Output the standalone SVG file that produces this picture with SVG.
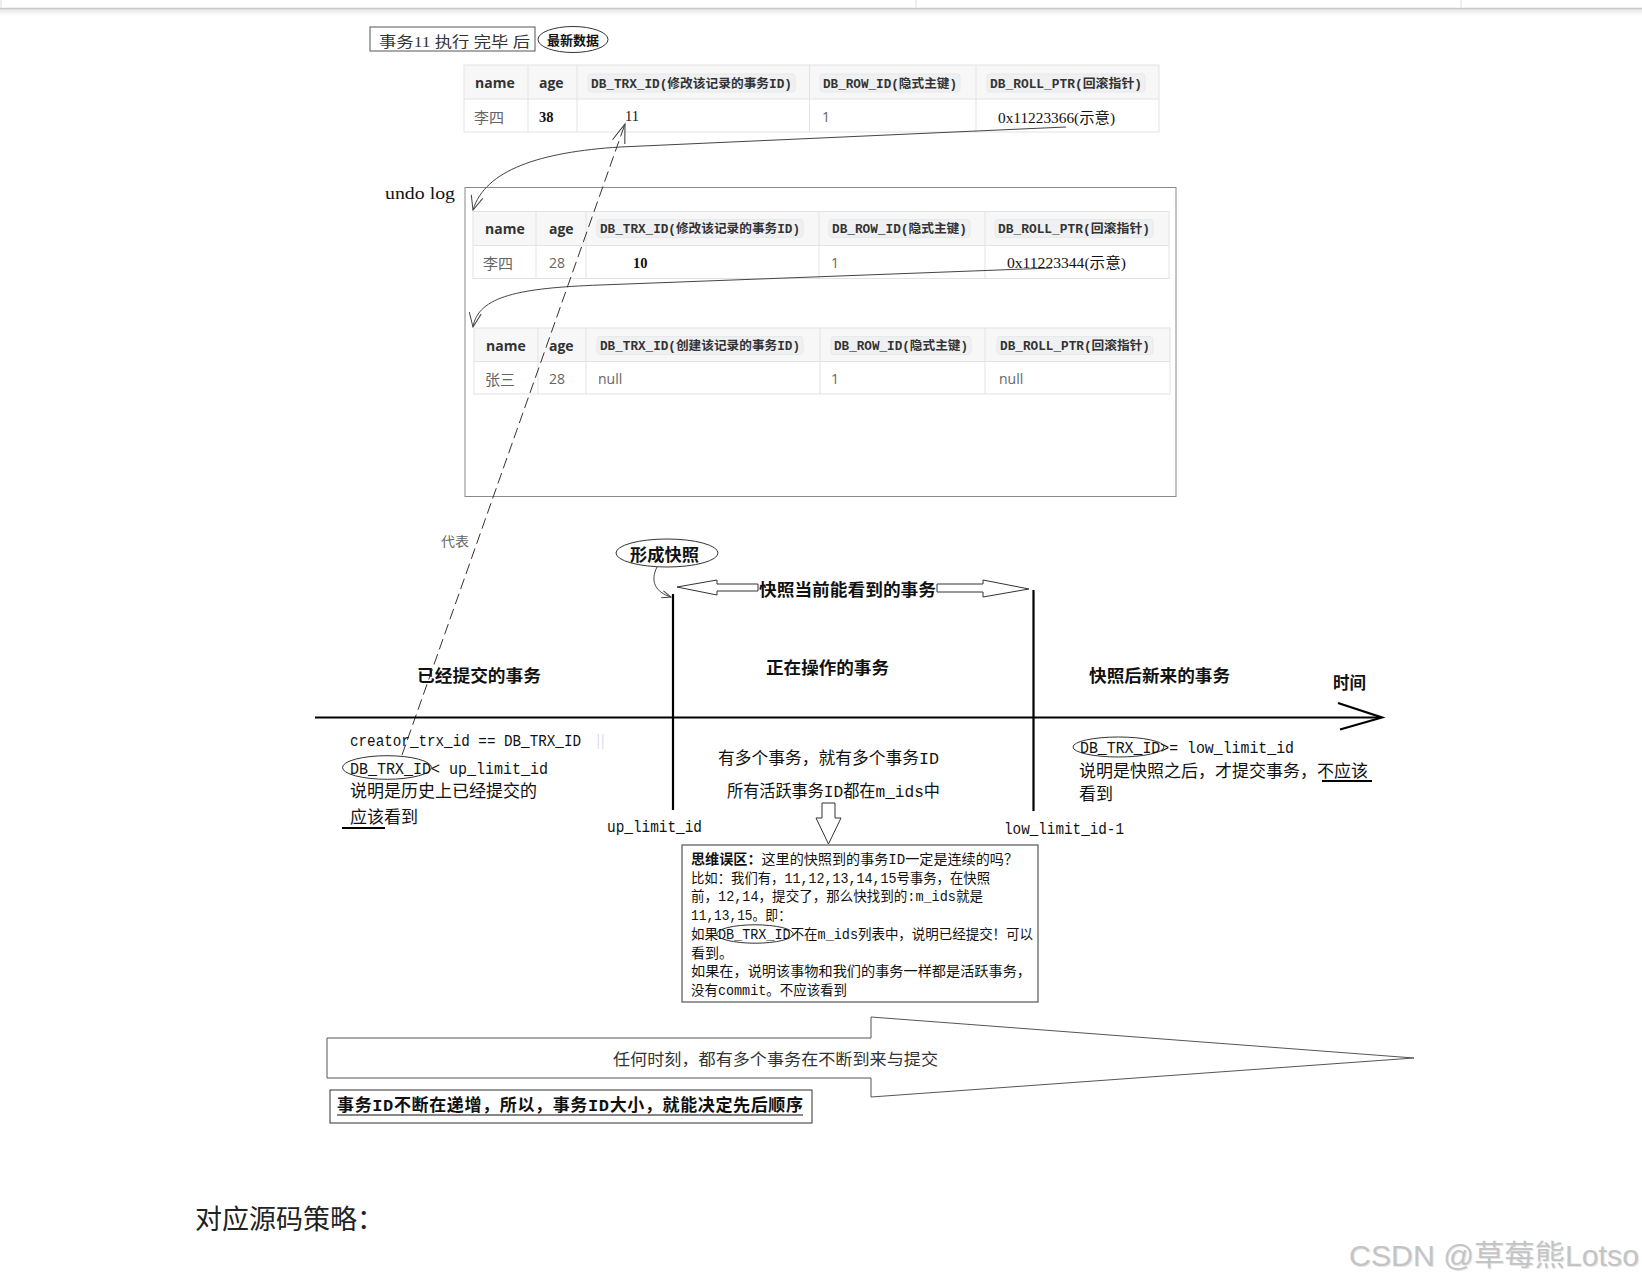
<svg xmlns="http://www.w3.org/2000/svg" width="1642" height="1283" viewBox="0 0 1642 1283">
<defs>
<style>
.cn{font-family:"Liberation Mono","Noto Sans CJK SC",sans-serif;fill:#111}
.d{font-size:16.5px}
.b{font-weight:bold}
.mono{font-family:"Liberation Mono","Noto Sans CJK SC",monospace;font-size:16px;fill:#111}
.th{font-family:"Open Sans","Noto Sans CJK SC",sans-serif;font-size:14px;font-weight:bold;fill:#333}
.code{font-family:"Liberation Mono","Noto Sans CJK SC",monospace;font-size:12.5px;font-weight:bold;fill:#333}
.codebg{fill:#eff0f1;stroke:#e4e6e8;stroke-width:0.8}
.td{font-family:"Open Sans","Noto Sans CJK SC",sans-serif;font-size:14px;fill:#666}
.tdc{font-family:"Noto Sans CJK SC",sans-serif;font-size:15px;fill:#666}
.ser{font-family:"Liberation Serif","Noto Sans CJK SC",serif;font-size:14.5px;fill:#111}
.grid{stroke:#e3e3e3;stroke-width:1;fill:none}
.hdr{fill:#f7f7f7}
.ln{fill:none;stroke:#444;stroke-width:1}
.bx{font-size:14px}
.blk{stroke:#000;stroke-width:2.2;fill:none}
</style>
<linearGradient id="sh" x1="0" y1="0" x2="0" y2="1">
<stop offset="0" stop-color="#e6e6e6"/><stop offset="1" stop-color="#ffffff"/>
</linearGradient>
<marker id="dh" markerUnits="userSpaceOnUse" markerWidth="22" markerHeight="16" viewBox="0 0 22 16" refX="20" refY="8" orient="auto"><path d="M1,1.5 L20,8 L1,14.5" fill="none" stroke="#333" stroke-width="1"/></marker>
<marker id="ah" markerUnits="userSpaceOnUse" markerWidth="16" markerHeight="14" viewBox="0 0 16 14" refX="15" refY="7" orient="auto"><path d="M1,1 L15,7 L1,13" fill="none" stroke="#444" stroke-width="1"/></marker>
<marker id="as" markerUnits="userSpaceOnUse" markerWidth="11" markerHeight="9" viewBox="0 0 11 9" refX="10" refY="4.5" orient="auto"><path d="M1,1 L10,4.5 L1,8" fill="none" stroke="#444" stroke-width="1"/></marker>
</defs>
<rect x="0" y="0" width="1642" height="1283" fill="#fff"/>
<g id="topbar">
<rect x="0" y="9" width="1642" height="7" fill="url(#sh)"/>
<line x1="0" y1="8.5" x2="1642" y2="8.5" stroke="#c9c9c9" stroke-width="1.5"/>
<line x1="1" y1="0" x2="1" y2="8" stroke="#ddd"/>
<line x1="916" y1="0" x2="916" y2="8" stroke="#ddd"/>
<line x1="1461" y1="0" x2="1461" y2="8" stroke="#ddd"/>
</g>

<g id="title-box">
<rect x="370" y="27" width="165" height="24" fill="#fff" stroke="#555" stroke-width="1"/>
<text class="ser" x="379" y="47" font-size="15.5" textLength="151" lengthAdjust="spacingAndGlyphs" style="fill:#333">事务11 执行 完毕 后</text>
</g>
<g id="latest-ellipse">
<ellipse cx="573" cy="39.5" rx="35" ry="13" fill="#fff" stroke="#333"/>
<text class="cn b" x="573" y="44.5" font-size="13" text-anchor="middle">最新数据</text>
</g>

<g id="table1">
<rect x="464" y="65" width="695" height="34" class="hdr"/>
<rect x="464" y="65" width="695" height="67" class="grid"/>
<path class="grid" d="M464 99H1159M528 65V132M577 65V132M809.5 65V132M976 65V132"/>
<text class="th" x="475" y="88">name</text>
<text class="th" x="539" y="88">age</text>
<rect class="codebg" x="588" y="74" width="207" height="18" rx="3"/>
<text class="code" x="591" y="87.5" textLength="201" lengthAdjust="spacingAndGlyphs">DB_TRX_ID(修改该记录的事务ID)</text>
<rect class="codebg" x="820" y="74" width="140" height="18" rx="3"/>
<text class="code" x="823" y="87.5" textLength="134" lengthAdjust="spacingAndGlyphs">DB_ROW_ID(隐式主键)</text>
<rect class="codebg" x="987" y="74" width="158" height="18" rx="3"/>
<text class="code" x="990" y="87.5" textLength="152" lengthAdjust="spacingAndGlyphs">DB_ROLL_PTR(回滚指针)</text>
<text class="tdc" x="474" y="123">李四</text>
<text class="ser b" x="539" y="122">38</text>
<text class="ser" x="625" y="121">11</text>
<text class="td" x="822" y="122">1</text>
<text class="ser" x="998" y="123" textLength="117" lengthAdjust="spacingAndGlyphs">0x11223366(示意)</text>
</g>

<g id="undo-log">
<text x="385" y="199" font-family="Liberation Serif,serif" font-size="17" fill="#111" textLength="70" lengthAdjust="spacingAndGlyphs">undo log</text>
<rect x="465" y="187.5" width="711" height="309" fill="#fff" stroke="#8a8a8a" stroke-width="1"/>
</g>

<g id="table2">
<rect x="473" y="211.5" width="696" height="34" class="hdr"/>
<rect x="473" y="211.5" width="696" height="67" class="grid"/>
<path class="grid" d="M473 245.5H1169M536 211.5V278.5M586 211.5V278.5M819 211.5V278.5M985 211.5V278.5"/>
<text class="th" x="485" y="233.5">name</text>
<text class="th" x="549" y="233.5">age</text>
<rect class="codebg" x="597" y="219.5" width="206" height="18" rx="3"/>
<text class="code" x="600" y="233" textLength="200" lengthAdjust="spacingAndGlyphs">DB_TRX_ID(修改该记录的事务ID)</text>
<rect class="codebg" x="829" y="219.5" width="141" height="18" rx="3"/>
<text class="code" x="832" y="233" textLength="135" lengthAdjust="spacingAndGlyphs">DB_ROW_ID(隐式主键)</text>
<rect class="codebg" x="995" y="219.5" width="158" height="18" rx="3"/>
<text class="code" x="998" y="233" textLength="152" lengthAdjust="spacingAndGlyphs">DB_ROLL_PTR(回滚指针)</text>
<text class="tdc" x="483" y="268.5">李四</text>
<text class="td" x="549" y="267.5">28</text>
<text class="ser b" x="633" y="267.5">10</text>
<text class="td" x="831" y="267.5">1</text>
<text class="ser" x="1007" y="268" textLength="119" lengthAdjust="spacingAndGlyphs">0x11223344(示意)</text>
</g>

<g id="table3">
<rect x="474" y="328" width="696" height="33.5" class="hdr"/>
<rect x="474" y="328" width="696" height="66" class="grid"/>
<path class="grid" d="M474 361.5H1170M538 328V394M586 328V394M820 328V394M985 328V394"/>
<text class="th" x="486" y="350.5">name</text>
<text class="th" x="549" y="350.5">age</text>
<rect class="codebg" x="597" y="336.5" width="206" height="18" rx="3"/>
<text class="code" x="600" y="350" textLength="200" lengthAdjust="spacingAndGlyphs">DB_TRX_ID(创建该记录的事务ID)</text>
<rect class="codebg" x="831" y="336.5" width="140" height="18" rx="3"/>
<text class="code" x="834" y="350" textLength="134" lengthAdjust="spacingAndGlyphs">DB_ROW_ID(隐式主键)</text>
<rect class="codebg" x="997" y="336.5" width="156" height="18" rx="3"/>
<text class="code" x="1000" y="350" textLength="150" lengthAdjust="spacingAndGlyphs">DB_ROLL_PTR(回滚指针)</text>
<text class="tdc" x="485" y="385">张三</text>
<text class="td" x="549" y="384">28</text>
<text class="td" x="598" y="384">null</text>
<text class="td" x="831" y="384">1</text>
<text class="td" x="999" y="384">null</text>
</g>

<g id="connectors">
<path class="ln" d="M1066 127 L620 147 C540 152 485 170 473 210" marker-end="url(#ah)"/>
<path class="ln" d="M1052 268 L600 285 C520 288 478 296 473 327" marker-end="url(#ah)"/>
<path d="M402 755 L625 124" fill="none" stroke="#333" stroke-width="1" stroke-dasharray="11 5" marker-end="url(#dh)"/>
<path class="ln" d="M657 567 C650 581 655 592 671 597" marker-end="url(#as)"/>
</g>

<g id="label-daibiao">
<text class="cn" x="441" y="546" font-size="13" style="fill:#666" textLength="28" lengthAdjust="spacingAndGlyphs">代表</text>
</g>

<g id="snapshot-ellipse">
<ellipse cx="667" cy="553" rx="51" ry="14" fill="#fff" stroke="#333"/>
<text class="cn d b" x="630" y="561" textLength="69" lengthAdjust="spacingAndGlyphs">形成快照</text>
</g>

<g id="visible-range">
<path d="M677 587 L717 580 L717 584 L758 584 L758 591 L717 591 L717 595 Z" fill="#fff" stroke="#333"/>
<path d="M937 584 L983 584 L983 580 L1029 589 L983 597 L983 592 L937 592 Z" fill="#fff" stroke="#333"/>
<text class="cn d b" x="759" y="596" textLength="177" lengthAdjust="spacingAndGlyphs">快照当前能看到的事务</text>
</g>

<g id="timeline">
<line class="blk" x1="315" y1="717.5" x2="1381" y2="717.5" stroke-width="2.5"/>
<path class="blk" d="M1338 703 L1382 717.5 L1340 729.5" stroke-width="3"/>
<line class="blk" x1="673" y1="594" x2="673" y2="810"/>
<line class="blk" x1="1033.5" y1="590" x2="1033.5" y2="811"/>
<text class="cn d b" x="1333" y="689" textLength="33" lengthAdjust="spacingAndGlyphs">时间</text>
</g>

<g id="committed">
<text class="cn d b" x="417" y="682" textLength="124" lengthAdjust="spacingAndGlyphs">已经提交的事务</text>
<text class="mono" x="350" y="746" font-size="14.3" textLength="231" lengthAdjust="spacingAndGlyphs">creator_trx_id == DB_TRX_ID</text>
<text class="mono" x="596" y="746" font-size="14.3" style="fill:#b9c7db" textLength="9" lengthAdjust="spacingAndGlyphs">||</text>
<ellipse cx="387" cy="767.5" rx="44.5" ry="11.8" fill="none" stroke="#333"/>
<text class="mono" x="350" y="774" textLength="198" lengthAdjust="spacingAndGlyphs">DB_TRX_ID&lt; up_limit_id</text>
<text class="cn d" x="350" y="797" textLength="187" lengthAdjust="spacingAndGlyphs">说明是历史上已经提交的</text>
<text class="cn d" x="350" y="823" textLength="68" lengthAdjust="spacingAndGlyphs">应该看到</text>
<line x1="342" y1="828" x2="385" y2="828" stroke="#000" stroke-width="2.2"/>
<text class="mono" x="607" y="832" textLength="95" lengthAdjust="spacingAndGlyphs">up_limit_id</text>
</g>

<g id="active">
<text class="cn d b" x="766" y="674" textLength="123" lengthAdjust="spacingAndGlyphs">正在操作的事务</text>
<text class="cn d" x="718" y="764" textLength="221" lengthAdjust="spacingAndGlyphs">有多个事务，就有多个事务ID</text>
<text class="cn d" x="727" y="797" textLength="213" lengthAdjust="spacingAndGlyphs">所有活跃事务ID都在m_ids中</text>
<path d="M822 803 L835 803 L835 818 L841 818 L828.5 844 L816 818 L822 818 Z" fill="#fff" stroke="#333"/>
<text class="mono" x="1004" y="834" textLength="120" lengthAdjust="spacingAndGlyphs">low_limit_id-1</text>
</g>

<g id="future">
<text class="cn d b" x="1089" y="682" textLength="141" lengthAdjust="spacingAndGlyphs">快照后新来的事务</text>
<ellipse cx="1118.5" cy="747" rx="45.5" ry="10" fill="none" stroke="#333"/>
<text class="mono" x="1080" y="753" textLength="214" lengthAdjust="spacingAndGlyphs">DB_TRX_ID&gt;= low_limit_id</text>
<text class="cn d" x="1079" y="777" textLength="289" lengthAdjust="spacingAndGlyphs">说明是快照之后，才提交事务，不应该</text>
<line x1="1322" y1="781" x2="1372" y2="781" stroke="#000" stroke-width="2"/>
<text class="cn d" x="1079" y="800" textLength="34" lengthAdjust="spacingAndGlyphs">看到</text>
</g>

<g id="thinking-box">
<rect x="682" y="845" width="356" height="157" fill="#fff" stroke="#555" stroke-width="1.2"/>
<text class="cn bx" x="691" y="864" textLength="327" lengthAdjust="spacingAndGlyphs"><tspan font-weight="bold">思维误区：</tspan>这里的快照到的事务ID一定是连续的吗？</text>
<text class="cn bx" x="691" y="882.7" textLength="299" lengthAdjust="spacingAndGlyphs">比如：我们有，11,12,13,14,15号事务，在快照</text>
<text class="cn bx" x="691" y="901.4" textLength="292" lengthAdjust="spacingAndGlyphs">前，12,14，提交了，那么快找到的:m_ids就是</text>
<text class="cn bx" x="691" y="920.1" textLength="100" lengthAdjust="spacingAndGlyphs">11,13,15。即：</text>
<text class="cn bx" x="691" y="938.8" textLength="342" lengthAdjust="spacingAndGlyphs">如果DB_TRX_ID不在m_ids列表中，说明已经提交！可以</text>
<ellipse cx="755" cy="934" rx="38.3" ry="9.2" fill="none" stroke="#333"/>
<text class="cn bx" x="691" y="957.5">看到。</text>
<text class="cn bx" x="691" y="976.2" textLength="340" lengthAdjust="spacingAndGlyphs">如果在，说明该事物和我们的事务一样都是活跃事务，</text>
<text class="cn bx" x="691" y="995" textLength="156" lengthAdjust="spacingAndGlyphs">没有commit。不应该看到</text>
</g>

<g id="flow-arrow">
<path d="M327 1038 L871 1038 L871 1017 L1414 1058 L871 1097 L871 1078 L327 1078 Z" fill="#fff" stroke="#555" stroke-width="1"/>
<text class="cn" x="613" y="1065" font-size="16" style="fill:#333" textLength="325" lengthAdjust="spacingAndGlyphs">任何时刻，都有多个事务在不断到来与提交</text>
</g>

<g id="order-box">
<rect x="330" y="1090" width="482" height="33" fill="#fff" stroke="#333" stroke-width="1"/>
<text class="cn b" x="337" y="1111" font-size="17" textLength="466" lengthAdjust="spacing">事务ID不断在递增，所以，事务ID大小，就能决定先后顺序</text>
<line x1="337" y1="1115" x2="803" y2="1115" stroke="#111" stroke-width="1.2"/>
</g>

<g id="footer">
<text x="195" y="1229" font-family="Noto Sans CJK SC,sans-serif" font-size="27" fill="#222">对应源码策略：</text>
<text x="1350" y="1267" font-family="Liberation Sans,Noto Sans CJK SC,sans-serif" font-size="29" fill="#e6e6e6" textLength="290" lengthAdjust="spacingAndGlyphs">CSDN @草莓熊Lotso</text>
<text x="1349" y="1266" font-family="Liberation Sans,Noto Sans CJK SC,sans-serif" font-size="29" fill="#c4c4c4" textLength="290" lengthAdjust="spacingAndGlyphs">CSDN @草莓熊Lotso</text>
</g>
</svg>
